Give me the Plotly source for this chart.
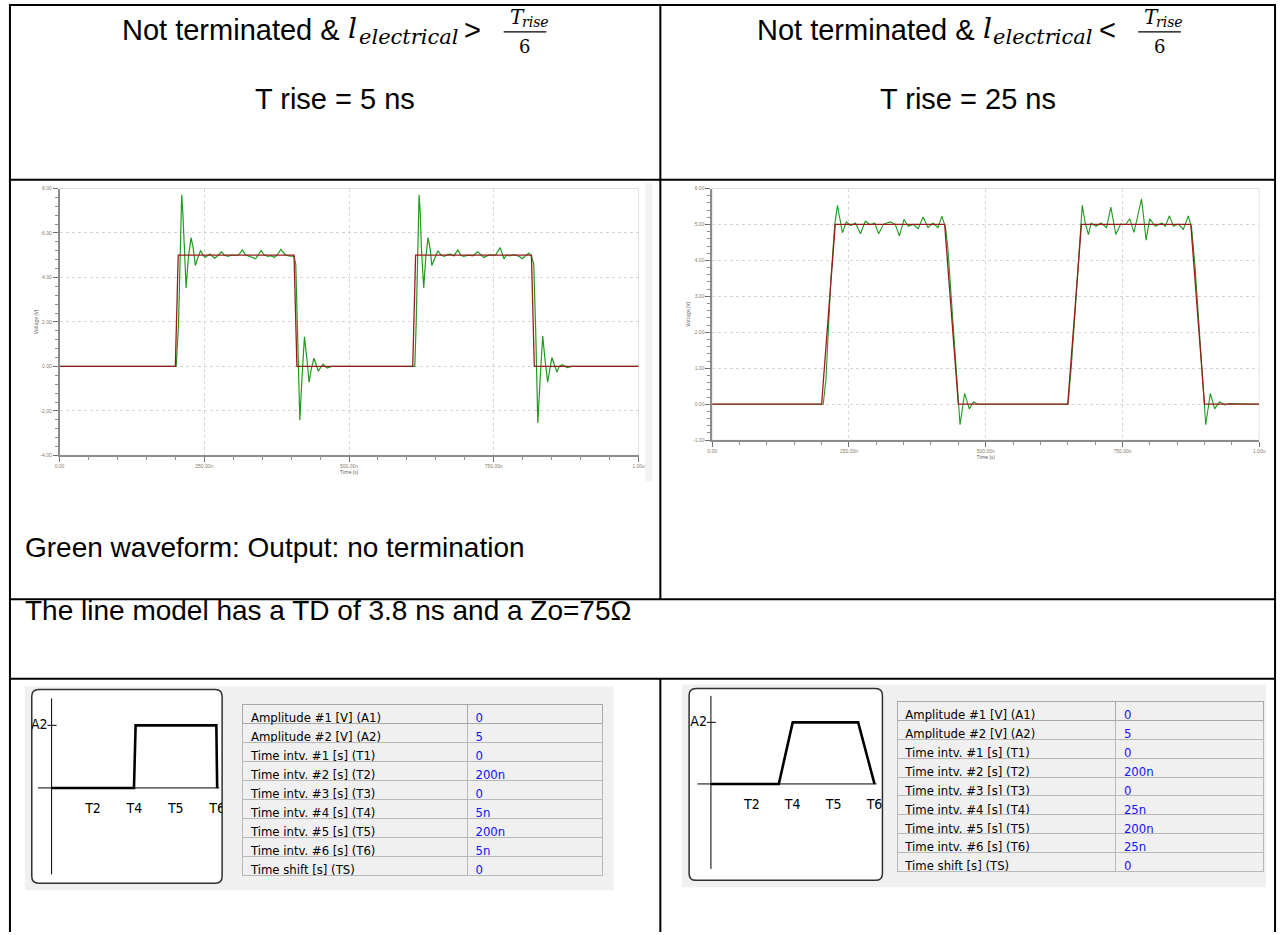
import plotly.graph_objects as go

W, H = 1286, 935

# ---------------- data ----------------
time_tickvals = [0, 250, 500, 750, 1000]
time_ticktext = ["0.00", "250.00n", "500.00n", "750.00n", "1.00u"]
left_v_ticks = [-4, -2, 0, 2, 4, 6, 8]
left_v_text = ["-4.00", "-2.00", "0.00", "2.00", "4.00", "6.00", "8.00"]
right_v_ticks = [-1, 0, 1, 2, 3, 4, 5, 6]
right_v_text = ["-1.00", "0.00", "1.00", "2.00", "3.00", "4.00", "5.00", "6.00"]

left_red_t = [0, 200, 205, 405, 410, 610, 615, 815, 820, 1000]
left_red_v = [0, 0, 5, 5, 0, 0, 5, 5, 0, 0]
left_green_t = [0, 201.5, 205.5, 208.5, 211, 213, 215.2, 218.6, 222.5, 227.2, 231, 234.6, 239, 243.7, 247.5,
                251.1, 255.5, 259.7, 264, 268.3, 274, 279.7, 285, 291, 297.5, 304, 310, 315.6, 321, 327, 332.5,
                338.5, 343, 348, 353.5, 359.6, 365, 371, 377, 382.4, 387, 391, 396, 401.3, 405, 408, 411.5, 415,
                419, 423, 427, 431, 435, 439.5, 443, 447, 451, 455, 462, 470, 610,
                613.6, 616, 618.5, 621, 623, 625, 629, 632.5, 636.5, 640, 643, 648, 653.5, 659, 665, 670, 675,
                681, 688, 693, 698, 706, 714, 722, 728, 733, 739, 745, 753, 760.8, 767.6, 772, 778, 784, 790,
                795, 799, 805, 810.5, 815, 819, 822.5, 826, 830, 834.5, 838.5, 843, 847, 850.4, 855, 859, 863,
                868, 876.8, 885, 905, 1000]
left_green_v = [0, 0, 1.9, 5.0, 7.72, 6.9, 5.3, 3.53, 4.9, 5.79, 5.3, 4.54, 4.9, 5.21, 5.02,
                4.9, 4.98, 5.05, 4.95, 4.87, 5.0, 5.15, 5.0, 4.95, 5.02, 4.98, 5.03, 5.24, 5.02, 4.95, 4.9,
                4.84, 5.0, 5.21, 5.02, 4.95, 4.98, 4.9, 5.05, 5.27, 5.1, 5.0, 4.97, 4.95, 4.95, 4.6, 1.5, -2.42,
                -0.4, 1.33, 0.4, -0.71, -0.1, 0.37, 0.1, -0.22, -0.05, 0.1, -0.07, 0, 0,
                0, 2.0, 5.0, 7.72, 6.9, 5.3, 3.53, 4.9, 5.79, 5.3, 4.54, 4.9, 5.2, 5.0, 4.95, 5.03, 5.05,
                4.97, 5.24, 5.0, 4.95, 5.0, 4.97, 5.15, 5.0, 4.9, 4.98, 5.02, 5.0, 5.34, 4.84, 5.0, 4.97, 5.03, 4.98,
                4.93, 4.84, 5.0, 5.1, 4.95, 4.6, 1.5, -2.54, -0.6, 1.37, 0.3, -0.71, -0.1, 0.4, 0.05, -0.25, 0,
                0.08, -0.05, 0, 0, 0]

right_red_t = [0, 200, 225, 425, 450, 650, 675, 875, 900, 1000]
right_red_v = [0, 0, 5, 5, 0, 0, 5, 5, 0, 0]
right_green_t = [0, 203, 208, 216.9, 224, 229, 233.2, 238, 245.3, 253, 262, 271, 280, 289.2, 297, 304.3, 313.3,
                 325.4, 334.4, 342.3, 350.7, 358.5, 367.5, 376.6, 385.6, 394.6, 403.7, 412.7, 419.9, 426.6, 430.8,
                 439.8, 448.9, 453.1, 461.5, 470, 477.8, 485, 650.6, 656.6, 665.7, 673.5, 676.5, 682.5, 687.9,
                 692.7, 701.8, 710.8, 721, 728.8, 737.9, 746.9, 756, 763.2, 771, 777, 784.9, 789, 793.2, 799.9,
                 810.1, 822.2, 828.2, 836, 843.2, 852.3, 861.3, 870.4, 876.4, 882.4, 891.4, 898.7, 902.3, 910.7,
                 918.6, 927.6, 936.7, 945.7, 1000]
right_green_v = [0, 0, 0.7, 3.44, 5.0, 5.53, 5.18, 4.77, 5.07, 4.97, 5.04, 4.74, 5.09, 4.99, 5.04, 4.74, 5.01,
                 5.07, 5.01, 4.68, 5.14, 4.95, 5.0, 4.88, 5.21, 4.91, 5.04, 4.91, 5.23, 4.91, 4.36,
                 2.34, 0.33, -0.57, 0.3, -0.13, 0.07, 0, 0, 1.06, 3.07, 5.0, 5.53, 5.0, 4.72,
                 5.04, 4.95, 5.04, 4.91, 5.48, 4.72, 5.01, 5.0, 5.16, 4.78, 5.17, 5.71, 5.17, 4.56, 5.16,
                 4.95, 5.04, 4.95, 5.24, 4.95, 5.01, 4.86, 5.24, 4.91, 3.9, 1.88, 0.1, -0.57, 0.3,
                 -0.13, 0.07, -0.02, 0.02, 0]

param_names = ["Amplitude #1 [V] (A1)", "Amplitude #2 [V] (A2)", "Time intv. #1 [s] (T1)",
               "Time intv. #2 [s] (T2)", "Time intv. #3 [s] (T3)", "Time intv. #4 [s] (T4)",
               "Time intv. #5 [s] (T5)", "Time intv. #6 [s] (T6)", "Time shift [s] (TS)"]
left_param_values = ["0", "5", "0", "200n", "0", "5n", "200n", "5n", "0"]
right_param_values = ["0", "5", "0", "200n", "0", "25n", "200n", "25n", "0"]

schem_labels = ["T2", "T4", "T5", "T6"]
schem_label_pos = [1, 2, 3, 4]
left_schem_x = [0, 1.99, 2.03, 3.98, 4.0]
right_schem_x = [0, 1.66, 2.0, 3.6, 4.0]
schem_y = [0, 0, 1, 1, 0]

# ---------------- helpers ----------------
def px(x):
    return x / W

def py(y):
    return 1 - y / H

RED = "#9a1b1b"
GREEN = "#1f9a1f"
fig = go.Figure()

fig.add_trace(go.Scatter(x=left_green_t, y=left_green_v, mode="lines",
                         line=dict(color=GREEN, width=1.2), xaxis="x", yaxis="y"))
fig.add_trace(go.Scatter(x=left_red_t, y=left_red_v, mode="lines",
                         line=dict(color=RED, width=1.3), xaxis="x", yaxis="y"))
fig.add_trace(go.Scatter(x=right_green_t, y=right_green_v, mode="lines",
                         line=dict(color=GREEN, width=1.1), xaxis="x2", yaxis="y2"))
fig.add_trace(go.Scatter(x=right_red_t, y=right_red_v, mode="lines",
                         line=dict(color=RED, width=1.3), xaxis="x2", yaxis="y2"))

SFONT = "Liberation Sans Narrow, DejaVu Sans Condensed, Liberation Sans"
for ax, sx in (("3", left_schem_x), ("4", right_schem_x)):
    fig.add_trace(go.Scatter(x=[0, 0], y=[1.43, -1.38], mode="lines", line=dict(color="black", width=1),
                             xaxis="x" + ax, yaxis="y" + ax))
    fig.add_trace(go.Scatter(x=[-0.33, 4.05], y=[0, 0], mode="lines", line=dict(color="black", width=1),
                             xaxis="x" + ax, yaxis="y" + ax))
    fig.add_trace(go.Scatter(x=[-0.1, 0.12], y=[1, 1], mode="lines", line=dict(color="black", width=1),
                             xaxis="x" + ax, yaxis="y" + ax))
    fig.add_trace(go.Scatter(x=sx, y=schem_y, mode="lines", line=dict(color="black", width=2.6),
                             xaxis="x" + ax, yaxis="y" + ax))
    fig.add_trace(go.Scatter(x=schem_label_pos, y=[-0.35] * 4, mode="text", text=schem_labels,
                             textfont=dict(family=SFONT, size=14, color="black"),
                             xaxis="x" + ax, yaxis="y" + ax))
    fig.add_trace(go.Scatter(x=[-0.3], y=[1], mode="text", text=["A2"],
                             textfont=dict(family=SFONT, size=14, color="black"),
                             xaxis="x" + ax, yaxis="y" + ax))

TFONT = "Liberation Sans Narrow, DejaVu Sans Condensed, Liberation Sans"
for vals, x0, x1, y0, y1, cw in ((left_param_values, 240, 604, 706, 877, [227, 137]),
                                 (right_param_values, 900, 1270, 703, 873, [221, 149])):
    rh = (y1 - y0) / 9.0
    fig.add_trace(go.Table(
        domain=dict(x=[px(x0), px(x1)], y=[py(y1) - 0.004, py(y0)]),
        columnwidth=cw,
        header=dict(values=[param_names[0], vals[0]], height=rh, align="left",
                    fill_color="#f0f0f0", line=dict(color="#a8a8a8", width=1),
                    font=dict(family=TFONT, size=13, color=["black", "#1010ff"])),
        cells=dict(values=[param_names[1:], vals[1:]], height=rh, align="left",
                   fill_color="#f0f0f0", line=dict(color="#b8b8b8", width=1),
                   font=dict(family=TFONT, size=13, color=["black", "#1010ff"]))))

tickfont = dict(family="Liberation Sans", size=5, color="#8a7a6a")
def wave_x(dom, anchor):
    return dict(domain=dom, range=[0, 1000], tickvals=time_tickvals, ticktext=time_ticktext, anchor=anchor,
                tickfont=tickfont, ticks="outside", ticklen=5, tickcolor="#707070", showline=True,
                linecolor="#8c8c8c", linewidth=1.5, showgrid=True, gridcolor="#d6d6d6", griddash="dot",
                zeroline=False, title=dict(text="Time (s)", font=dict(size=5, color="#555"), standoff=2),
                minor=dict(ticks="outside", ticklen=3, dtick=50, tickcolor="#909090", showgrid=False),
                fixedrange=True)

def wave_y(dom, rng, tv, tt, mdt, anchor):
    return dict(domain=dom, range=rng, tickvals=tv, ticktext=tt, tickfont=tickfont, ticks="outside",
                ticklen=5, tickcolor="#707070", showline=True, linecolor="#8c8c8c", linewidth=1.5,
                showgrid=True, gridcolor="#d6d6d6", griddash="dot", zeroline=False, anchor=anchor,
                title=dict(text="Voltage (V)", font=dict(size=5, color="#555"), standoff=2),
                minor=dict(ticks="outside", ticklen=3, dtick=mdt, tickcolor="#909090", showgrid=False),
                fixedrange=True)

hidden = dict(visible=False, fixedrange=True)
fig.update_layout(
    width=W, height=H, margin=dict(l=0, r=0, t=0, b=0), paper_bgcolor="white", plot_bgcolor="white",
    showlegend=False,
    xaxis=wave_x([px(55), px(639)], "y"),
    yaxis=wave_y([py(455.3), py(186.7)], [-4, 8], left_v_ticks, left_v_text, 0.4, "x"),
    xaxis2=wave_x([px(713.3), px(1265)], "y2"),
    yaxis2=wave_y([py(440), py(186.7)], [-1, 6], right_v_ticks, right_v_text, 0.2, "x2"),
    xaxis3=dict(hidden, domain=[px(27), px(219)], range=[(27 - 47) / 41.75, (219 - 47) / 41.75], anchor="y3"),
    yaxis3=dict(hidden, domain=[py(886), py(691)], range=[(790 - 886) / 63, (790 - 691) / 63], anchor="x3"),
    xaxis4=dict(hidden, domain=[px(690), px(885)], range=[(690 - 712) / 41.25, (885 - 712) / 41.25], anchor="y4"),
    yaxis4=dict(hidden, domain=[py(883), py(690)], range=[(786 - 883) / 62, (786 - 690) / 62], anchor="x4"),
)

shapes = []
for xr, yr in (("x domain", "y domain"), ("x2 domain", "y2 domain")):
    shapes.append(dict(type="rect", xref=xr, yref=yr, x0=0, x1=1, y0=0, y1=1,
                       line=dict(color="#e2e2e2", width=1), layer="below"))
shapes.append(dict(type="rect", xref="paper", yref="paper", x0=px(20), x1=px(614), y0=py(893), y1=py(688),
                   fillcolor="#f0f0f0", line=dict(width=0), layer="below"))
shapes.append(dict(type="rect", xref="paper", yref="paper", x0=px(683), x1=px(1272), y0=py(890), y1=py(686),
                   fillcolor="#f0f0f0", line=dict(width=0), layer="below"))
shapes.append(dict(type="rect", xref="paper", yref="paper", x0=px(646), x1=px(653), y0=py(481), y1=py(181),
                   fillcolor="#f2f2f2", line=dict(width=0), layer="below"))

def rounded(x0, y0, x1, y1, r):
    return (f"M {px(x0 + r)},{py(y0)} L {px(x1 - r)},{py(y0)} Q {px(x1)},{py(y0)} {px(x1)},{py(y0 + r)} "
            f"L {px(x1)},{py(y1 - r)} Q {px(x1)},{py(y1)} {px(x1 - r)},{py(y1)} "
            f"L {px(x0 + r)},{py(y1)} Q {px(x0)},{py(y1)} {px(x0)},{py(y1 - r)} "
            f"L {px(x0)},{py(y0 + r)} Q {px(x0)},{py(y0)} {px(x0 + r)},{py(y0)} Z")

shapes.append(dict(type="path", xref="paper", yref="paper", path=rounded(27, 691, 219, 886, 7),
                   fillcolor="white", line=dict(color="#303030", width=1.5), layer="below"))
shapes.append(dict(type="path", xref="paper", yref="paper", path=rounded(690, 690, 885, 883, 7),
                   fillcolor="white", line=dict(color="#303030", width=1.5), layer="below"))

def hline(y, x0, x1):
    shapes.append(dict(type="line", xref="paper", yref="paper", x0=px(x0), x1=px(x1), y0=py(y), y1=py(y),
                       line=dict(color="black", width=2)))

def vline(x, y0, y1):
    shapes.append(dict(type="line", xref="paper", yref="paper", x0=px(x), x1=px(x), y0=py(y0), y1=py(y1),
                       line=dict(color="black", width=2)))

hline(2, 4, 1282)
hline(178, 4, 1282)
hline(600, 4, 1282)
hline(680, 4, 1282)
vline(5, 1, 935)
vline(1281, 1, 935)
vline(661, 1, 600)
vline(661, 680, 935)

ann = []
SANS = "Liberation Sans, Arial"
SERIF = "DejaVu Serif"

def text(x, y, s, size=28, family=SANS, xanchor="left", color="black"):
    ann.append(dict(xref="paper", yref="paper", x=px(x), y=py(y), text=s, showarrow=False,
                    xanchor=xanchor, yanchor="middle", font=dict(family=family, size=size, color=color)))

for a, sign in ((116, "&gt;"), (756, "&lt;")):
    text(a, 27, "Not terminated &amp;", size=29)
    text(a + 228, 26, "<i>l</i>", size=28, family=SERIF)
    text(a + 239, 34, "<i>electrical</i>", size=21, family=SERIF)
    text(a + 345, 27, sign, size=29)
    text(a + 391, 14, "<i>T</i>", size=20, family=SERIF)
    text(a + 403, 19, "<i>rise</i>", size=14, family=SERIF)
    text(a + 408, 44, "6", size=18, family=SERIF, xanchor="center")
    shapes.append(dict(type="line", xref="paper", yref="paper", x0=px(a + 387), x1=px(a + 430),
                       y0=py(29), y1=py(29), line=dict(color="black", width=1.2)))

text(333, 97, "T rise = 5 ns", size=29, xanchor="center")
text(971, 97, "T rise = 25 ns", size=29, xanchor="center")
text(18, 548, "Green waveform: Output: no termination")
text(18, 611, "The line model has a TD of 3.8 ns and a Zo=75Ω")
fig.update_layout(annotations=ann, shapes=shapes)

fig.write_html("out.html", config={"displayModeBar": False},
               post_script="document.body.style.margin='0px';")
